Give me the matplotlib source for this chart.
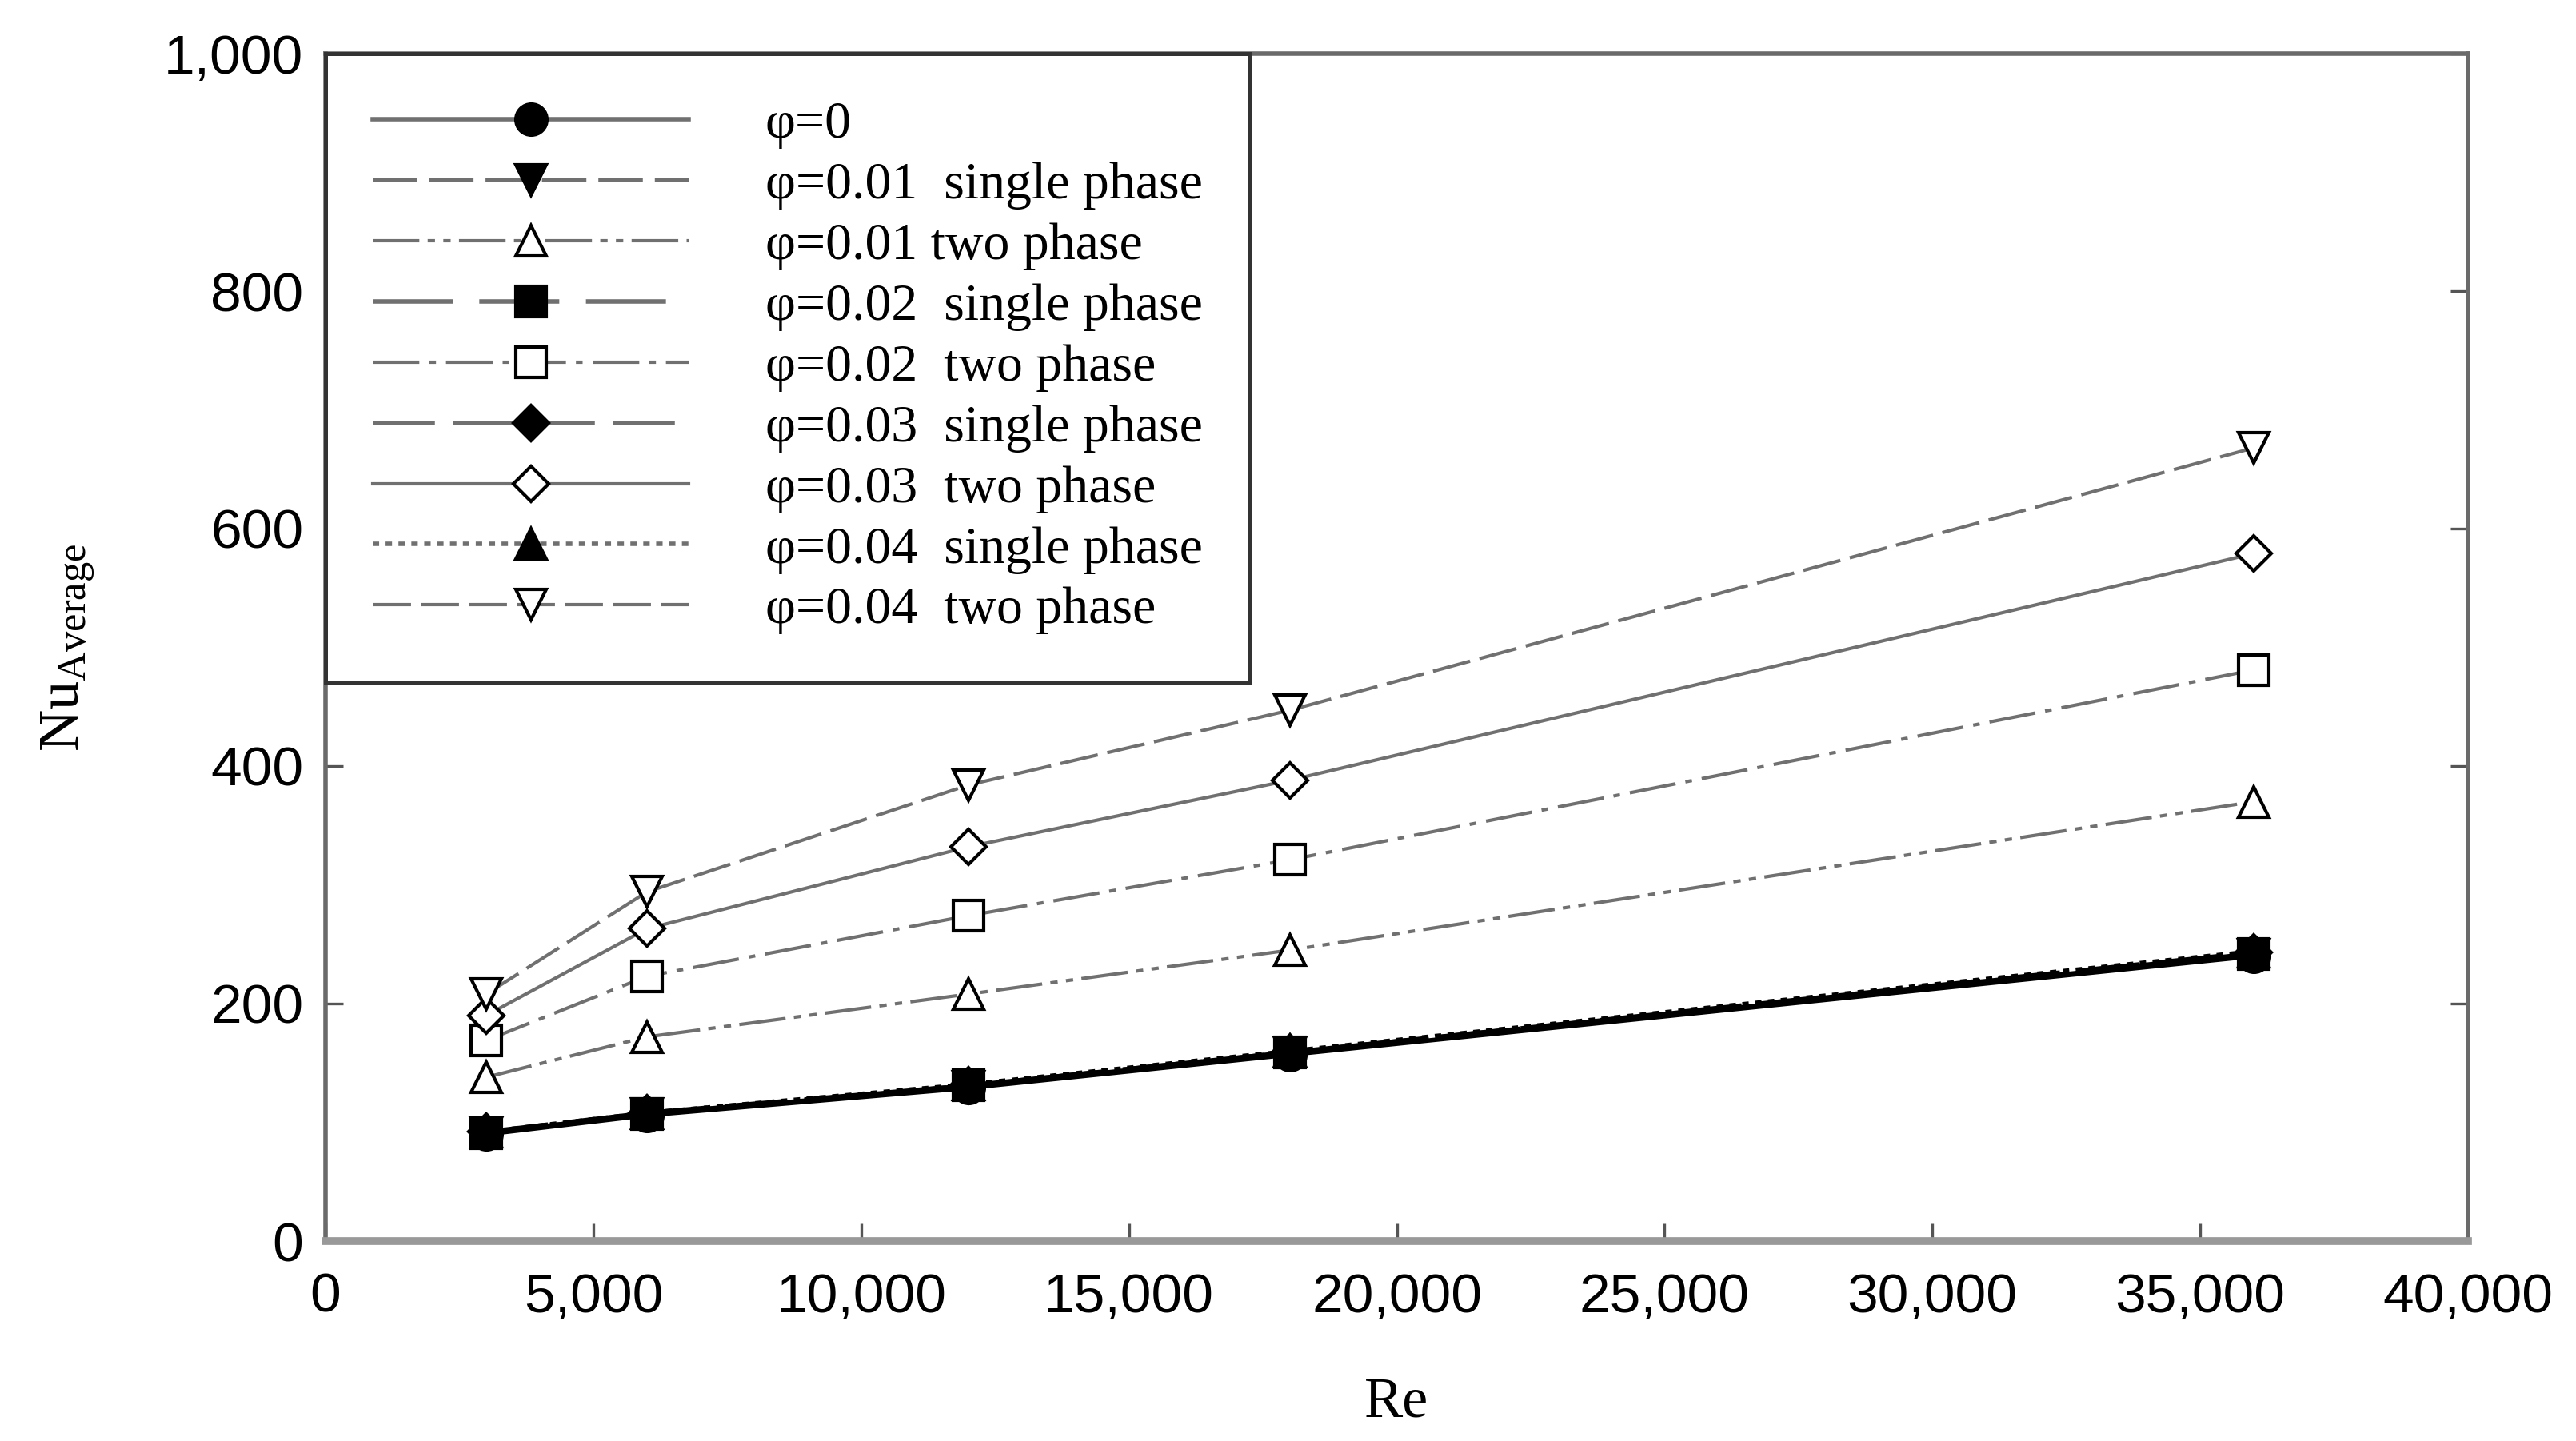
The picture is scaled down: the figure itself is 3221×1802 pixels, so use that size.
import numpy as np
import matplotlib
matplotlib.use("Agg")
import matplotlib.pyplot as plt

plt.rcParams['font.family'] = ['Liberation Serif', 'DejaVu Serif']
plt.rcParams['mathtext.fontset'] = 'custom'
plt.rcParams['mathtext.rm'] = 'Liberation Serif'
plt.rcParams['mathtext.it'] = 'Liberation Serif'

# data
re = [3000, 6000, 12000, 18000, 36000]
nu_phi0 = [90, 106, 129, 157, 240]
nu_001_single = [91, 107, 130, 158, 241]
nu_001_two = [138, 172, 208, 245, 370]
nu_002_single = [91, 107, 131, 159, 242]
nu_002_two = [169, 223, 274, 321, 481]
nu_003_single = [92, 108, 131, 159, 243]
nu_003_two = [190, 263, 332, 388, 579]
nu_004_single = [92, 108, 132, 160, 244]
nu_004_two = [208, 294, 384, 447, 668]

labels = ["φ=0",
          "φ=0.01  single phase",
          "φ=0.01 two phase",
          "φ=0.02  single phase",
          "φ=0.02  two phase",
          "φ=0.03  single phase",
          "φ=0.03  two phase",
          "φ=0.04  single phase",
          "φ=0.04  two phase"]

xticks = [0, 5000, 10000, 15000, 20000, 25000, 30000, 35000, 40000]
yticks = [0, 200, 400, 600, 800, 1000]

fig = plt.figure(figsize=(3221/200, 1802/200), dpi=200)
ax = fig.add_axes([407/3221, 1-1552/1802, (3086-407)/3221, (1552-67)/1802])

gray = '#707070'
ms = 14
# (values, marker, filled, dashes, color)
series = [
    (nu_phi0, 'o', True, None, 'black'),
    (nu_001_single, 'v', True, (10, 2.7), 'black'),
    (nu_001_two, '^', False, (14, 2.5, 2.2, 2.5, 2.2, 2.5), gray),
    (nu_002_single, 's', True, (18, 6), 'black'),
    (nu_002_two, 's', False, (14, 3, 2, 3), gray),
    (nu_003_single, 'D', True, (14, 4), 'black'),
    (nu_003_two, 'D', False, None, gray),
    (nu_004_single, '^', True, (1.45, 1.45), 'black'),
    (nu_004_two, 'v', False, (11.5, 2.9), gray),
]

handles = []
for (vals, mk, filled, dash, col), lab in zip(series, labels):
    msz = ms if mk != 'D' else ms - 3
    h, = ax.plot(re, vals, color=col, lw=1.5 if col == gray else 2.0,
                 marker=mk, markersize=msz,
                 markerfacecolor='black' if filled else 'white',
                 markeredgecolor='black', markeredgewidth=1.5, label=lab)
    if dash is not None:
        h.set_dashes(dash)
    handles.append(h)

ax.set_xlim(0, 40000)
ax.set_ylim(0, 1000)
ax.set_xticks(xticks)
ax.set_yticks(yticks)
ax.set_xticklabels([f"{v:,}" for v in xticks], family='Liberation Sans', fontsize=25)
ax.set_yticklabels([f"{v:,}" for v in yticks], family='Liberation Sans', fontsize=25)
ax.tick_params(axis='both', direction='in', length=8, width=1.2, color='#555555')
ax.tick_params(axis='y', right=True, pad=10)
ax.tick_params(axis='x', pad=14)

for s in ['left', 'right', 'top']:
    ax.spines[s].set_linewidth(2)
    ax.spines[s].set_color('#6a6a6a')
ax.spines['bottom'].set_linewidth(3.5)
ax.spines['bottom'].set_color('#999999')

ax.set_xlabel("Re", fontsize=26, labelpad=24)
ax.set_ylabel(r"Nu$_{\mathrm{Average}}$", fontsize=26, labelpad=30)

leg = ax.legend(handles=handles, loc='upper left', bbox_to_anchor=(0, 1),
                borderaxespad=0, fontsize=23.7, numpoints=1, handlelength=6.0,
                handletextpad=1.45, labelspacing=0.24, borderpad=0.9,
                fancybox=False, framealpha=1)
leg.get_frame().set_edgecolor('#333333')
leg.get_frame().set_linewidth(1.8)
for ln in leg.get_lines():
    ln.set_color(gray)

fig.savefig("out.png", dpi=200)
